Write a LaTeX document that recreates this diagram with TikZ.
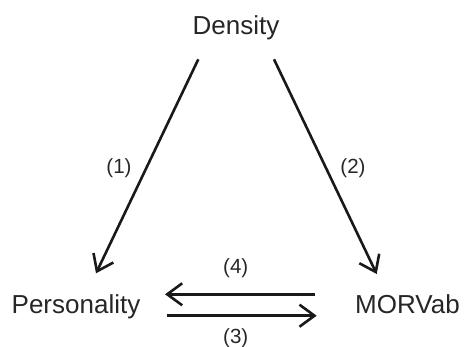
\documentclass[tikz,border=0pt]{standalone}
\usepackage{fontspec}
\setmainfont{Liberation Sans}
\usetikzlibrary{arrows.meta,calc}
\begin{document}
\begin{tikzpicture}[x=1pt,y=-1pt,
  lbl/.style={font=\fontsize{26}{30}\selectfont, inner sep=0pt, text=black!85},
  num/.style={font=\fontsize{20.5}{24}\selectfont, inner sep=0pt, text=black!85},
  arr/.style={line width=2.6pt, draw=black!90, -{Straight Barb[length=15pt,width=22pt,line width=2.6pt]}}]
\useasboundingbox (0,0) rectangle (465,347);
\node[lbl, anchor=base] (D) at (236,35) {Density};
\node[lbl, anchor=base west] (P) at (11.5,313) {Personality};
\node[lbl, anchor=base west] (M) at (355,313) {MORVab};
\draw[arr] ($(D.base)+(-37.7,24.3)$) -- ($(P.base west)+(84.5,-39.7)$);
\draw[arr] ($(D.base)+(38,24.3)$) -- ($(M.base west)+(21.7,-39)$);
\draw[arr] ($(M.base west)+(-40,-18.7)$) -- ($(P.base west)+(153.5,-18.7)$);
\draw[arr] ($(P.base west)+(155.2,2.7)$) -- ($(M.base west)+(-38.3,2.7)$);
\node[num] (n1) at (119,168) {(1)};
\node[num] (n2) at (353,168) {(2)};
\node[num] (n4) at (235.7,268) {(4)};
\node[num] (n3) at (235.7,338) {(3)};
\end{tikzpicture}
\end{document}
